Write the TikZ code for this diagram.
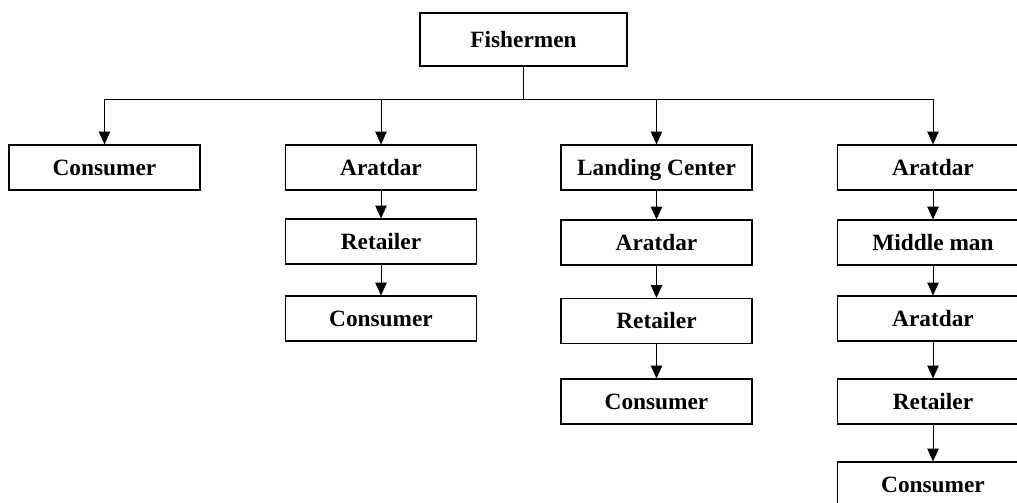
\documentclass[tikz,border=0pt]{standalone}
\usepackage{fontspec}
\setmainfont{Liberation Serif}
\usetikzlibrary{arrows.meta}

\tikzset{
  box/.style={draw, line width=0.9pt, minimum width=143.25pt, minimum height=33.75pt,
    inner sep=0pt, text height=12pt, text depth=0.5pt,
    font=\bfseries\fontsize{17.5}{20}\selectfont},
  link/.style={line width=0.6pt},
  flow/.style={link, -{Triangle[width=8.5pt,length=9.5pt]}},
}

\begin{document}
\begin{tikzpicture}[x=0.75pt, y=-0.75pt]
  \useasboundingbox (0,0) rectangle (1017,503);
  \clip (0,0) rectangle (1017,503);

  % Top
  \node[box, minimum width=155.25pt, minimum height=39.75pt] (fish) at (523.5,39.5) {Fishermen};
  \coordinate (bus) at (523.5,99);

  % Column 1
  \node[box] (cons1) at (104.5,167.5) {Consumer};

  % Column 2
  \node[box] (arat2) at (381,167.5) {Aratdar};
  \node[box] (ret2)  at (381,241.5) {Retailer};
  \node[box] (cons2) at (381,318.5) {Consumer};

  % Column 3
  \node[box] (land3) at (656.5,167.5) {Landing Center};
  \node[box] (arat3) at (656.5,242.5) {Aratdar};
  \node[box] (ret3)  at (656.5,321) {Retailer};
  \node[box] (cons3) at (656.5,401.5) {Consumer};

  % Column 4
  \node[box] (arat4)  at (933,167.5) {Aratdar};
  \node[box] (mid4)   at (933,242.5) {Middle man};
  \node[box] (arat4b) at (933,318.5) {Aratdar};
  \node[box] (ret4)   at (933,401.5) {Retailer};
  \node[box] (cons4)  at (933,484.5) {Consumer};

  % Branches
  \draw[link] (fish.south) -- (bus);
  \draw[link] (cons1.north |- bus) -- (arat4.north |- bus);
  \foreach \n in {cons1,arat2,land3,arat4}
    \draw[flow] (\n.north |- bus) -- (\n.north);

  % Chains
  \draw[flow] (arat2) -- (ret2);
  \draw[flow] (ret2) -- (cons2);
  \draw[flow] (land3) -- (arat3);
  \draw[flow] (arat3) -- (ret3);
  \draw[flow] (ret3) -- (cons3);
  \draw[flow] (arat4) -- (mid4);
  \draw[flow] (mid4) -- (arat4b);
  \draw[flow] (arat4b) -- (ret4);
  \draw[flow] (ret4) -- (cons4);
\end{tikzpicture}
\end{document}
